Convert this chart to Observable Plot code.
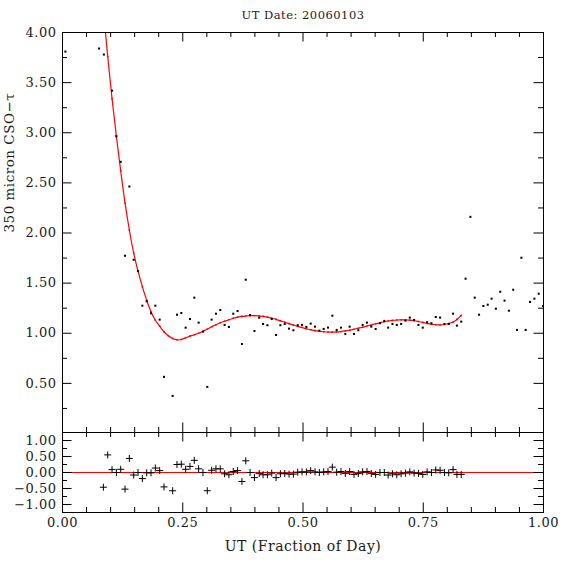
<!DOCTYPE html>
<html><head><meta charset="utf-8">
<script src="https://cdn.jsdelivr.net/npm/d3@7"></script>
<script src="https://cdn.jsdelivr.net/npm/@observablehq/plot@0.6"></script>
<style>
html,body{margin:0;padding:0;background:#fff;}
#chart{position:relative;width:574px;height:574px;overflow:hidden;background:#fff;}
#chart svg{position:absolute;left:0;}
</style></head><body><div id="chart"></div>
<script>
const titleText = "UT Date: 20060103";
const xTitle = "UT (Fraction of Day)";
const yTitle = "350 micron CSO\u2212\u03c4";

// measured tau values
const tauX = [0.006,0.076,0.086,0.094,0.103,0.112,0.121,0.130,0.139,0.148,0.157,0.166,0.175,0.184,0.193,0.202,0.211,0.229,0.238,0.247,0.256,0.265,0.274,0.283,0.292,0.301,0.310,0.319,0.328,0.337,0.346,0.355,0.364,0.373,0.381,0.390,0.399,0.409,0.417,0.426,0.435,0.444,0.453,0.462,0.471,0.480,0.489,0.498,0.507,0.516,0.525,0.534,0.543,0.552,0.561,0.570,0.579,0.588,0.597,0.606,0.615,0.624,0.633,0.642,0.651,0.660,0.669,0.677,0.686,0.695,0.704,0.713,0.722,0.731,0.740,0.749,0.758,0.767,0.776,0.785,0.794,0.803,0.812,0.820,0.829,0.838,0.848,0.857,0.866,0.875,0.884,0.892,0.901,0.910,0.919,0.928,0.937,0.945,0.954,0.963,0.972,0.981,0.990,0.999];
const tauY = [3.81,3.84,3.78,4.31,3.42,2.965,2.71,1.773,2.464,1.733,1.62,1.275,1.319,1.199,1.275,1.136,0.565,0.375,1.185,1.202,1.056,1.142,1.355,1.106,1.016,0.465,1.136,1.195,1.232,1.083,1.063,1.195,1.222,0.893,1.534,1.182,1.023,1.155,1.093,1.08,1.142,0.983,1.08,1.093,1.046,1.03,1.08,1.083,1.063,1.096,1.066,1.026,1.043,1.056,1.175,1.033,1.056,0.993,1.066,0.993,1.03,1.083,1.106,1.066,1.043,1.10,1.123,1.056,1.093,1.083,1.093,1.126,1.156,1.133,1.083,1.056,1.11,1.10,1.162,1.156,1.093,1.093,1.195,1.076,1.116,1.544,2.161,1.355,1.185,1.272,1.285,1.345,1.245,1.414,1.325,1.225,1.434,1.033,1.753,1.033,1.312,1.345,1.394,1.272];

// fitted curve, read at the fitted sample times
const fitX = [0.085,0.094,0.103,0.112,0.121,0.130,0.139,0.148,0.157,0.166,0.175,0.184,0.193,0.202,0.211,0.220,0.229,0.238,0.247,0.256,0.265,0.274,0.283,0.292,0.301,0.310,0.319,0.328,0.337,0.346,0.355,0.364,0.373,0.381,0.390,0.399,0.409,0.417,0.426,0.435,0.444,0.453,0.462,0.471,0.480,0.489,0.498,0.507,0.516,0.525,0.534,0.543,0.552,0.561,0.570,0.579,0.588,0.597,0.606,0.615,0.624,0.633,0.642,0.651,0.660,0.669,0.677,0.686,0.695,0.704,0.713,0.722,0.731,0.740,0.749,0.758,0.767,0.776,0.785,0.794,0.803,0.812,0.820,0.829];
const fitY = [4.24,3.76,3.34,2.965,2.62,2.30,2.03,1.80,1.62,1.465,1.33,1.215,1.13,1.07,1.015,0.975,0.948,0.935,0.938,0.955,0.972,0.985,1.0,1.02,1.04,1.065,1.085,1.105,1.12,1.135,1.15,1.16,1.168,1.172,1.175,1.176,1.174,1.168,1.16,1.15,1.138,1.124,1.11,1.096,1.082,1.068,1.057,1.045,1.035,1.026,1.02,1.015,1.012,1.011,1.013,1.017,1.023,1.03,1.04,1.05,1.06,1.072,1.083,1.095,1.105,1.115,1.122,1.128,1.132,1.134,1.133,1.13,1.125,1.117,1.108,1.098,1.09,1.085,1.083,1.087,1.097,1.113,1.138,1.178];

// residuals
const resX = [0.085,0.094,0.103,0.112,0.121,0.130,0.139,0.148,0.157,0.166,0.175,0.184,0.193,0.202,0.211,0.229,0.238,0.247,0.256,0.265,0.274,0.283,0.292,0.301,0.310,0.319,0.328,0.337,0.346,0.355,0.364,0.373,0.381,0.390,0.399,0.409,0.417,0.426,0.435,0.444,0.453,0.462,0.471,0.480,0.489,0.498,0.507,0.516,0.525,0.534,0.543,0.552,0.561,0.570,0.579,0.588,0.597,0.606,0.615,0.624,0.633,0.642,0.651,0.660,0.669,0.677,0.686,0.695,0.704,0.713,0.722,0.731,0.740,0.749,0.758,0.767,0.776,0.785,0.794,0.803,0.812,0.820,0.829];
const resY = [-0.46,0.55,0.09,0.0,0.10,-0.52,0.44,-0.08,0.0,-0.19,-0.01,-0.01,0.14,0.06,-0.45,-0.57,0.25,0.26,0.10,0.19,0.38,0.115,0.0,-0.57,0.07,0.115,0.115,-0.04,-0.07,0.03,0.06,-0.28,0.365,0.0,-0.16,-0.03,-0.07,-0.07,-0.02,-0.16,-0.04,-0.03,-0.05,-0.05,0.01,0.02,0.02,0.06,0.02,0.0,0.02,0.03,0.167,0.01,0.03,-0.03,0.03,-0.06,-0.03,0.02,0.03,-0.03,-0.06,0.0,0.0,-0.08,-0.04,-0.07,-0.04,-0.02,0.02,-0.02,-0.03,-0.06,0.02,0.0,0.08,0.07,0.0,-0.01,0.09,-0.06,-0.06];

// ticks
const xMajor = [0.25,0.5,0.75];
const xMinor = [0.05,0.1,0.15,0.2,0.3,0.35,0.4,0.45,0.55,0.6,0.65,0.7,0.8,0.85,0.9,0.95];
const xLabels = [0,0.25,0.5,0.75,1];
const yTopMajor = [0.5,1,1.5,2,2.5,3,3.5];
const yTopMinor = [0.25,0.75,1.25,1.75,2.25,2.75,3.25,3.75];
const yTopLabels = [0.5,1,1.5,2,2.5,3,3.5,4];
const yResMajor = [-1,-0.5,0,0.5,1];
const yResMinor = [-0.75,-0.25,0.25,0.75];
const yResLabels = [-1,-0.5,0,0.5,1];

const tau = tauX.map((x,i)=>({x, y: tauY[i]}));
const fit = fitX.map((x,i)=>({x, y: fitY[i]}));
const res = resX.map((x,i)=>({x, y: resY[i]}));

const W = 574, ML = 62, MR = 31, PW = W - ML - MR;
const FONT = "DejaVu Serif";
const fmt = v => (v < 0 ? "\u2212" : "") + Math.abs(v).toFixed(2);
const RED = "#ff0000";
const INK = "#1a1a1a";
const MINOR = 5, MAJOR = 9.5;

const plusSymbol = {draw(ctx, size){ const r = Math.sqrt(size/Math.PI); ctx.moveTo(-r,0); ctx.lineTo(r,0); ctx.moveTo(0,-r); ctx.lineTo(0,r); }};

function xTickMarks(PH){
  return [
    Plot.ruleX(xMinor, {x: d=>d, insetBottom: PH - MINOR, stroke: "black"}),
    Plot.ruleX(xMinor, {x: d=>d, insetTop: PH - MINOR, stroke: "black"}),
    Plot.ruleX(xMajor, {x: d=>d, insetBottom: PH - MAJOR, stroke: "black"}),
    Plot.ruleX(xMajor, {x: d=>d, insetTop: PH - MAJOR, stroke: "black"})
  ];
}
function yTickMarks(minor, major){
  return [
    Plot.ruleY(minor, {y: d=>d, insetRight: PW - MINOR, stroke: "black"}),
    Plot.ruleY(minor, {y: d=>d, insetLeft: PW - MINOR, stroke: "black"}),
    Plot.ruleY(major, {y: d=>d, insetRight: PW - MAJOR, stroke: "black"}),
    Plot.ruleY(major, {y: d=>d, insetLeft: PW - MAJOR, stroke: "black"})
  ];
}

const STYLE = {fontFamily: FONT, background: "transparent", overflow: "visible", letterSpacing: "0.5px"};

const TOP_MT = 32, TOP_H = 432, TOP_PH = TOP_H - TOP_MT;
const topPlot = Plot.plot({
  width: W, height: TOP_H,
  marginLeft: ML, marginRight: MR, marginTop: TOP_MT, marginBottom: 0,
  style: STYLE,
  x: {domain: [0,1], axis: null},
  y: {domain: [0.01,4], axis: null},
  marks: [
    Plot.line(fit, {x: "x", y: "y", stroke: RED, strokeWidth: 1.2, curve: "catmull-rom", clip: true}),
    Plot.dot(fit, {x: "x", y: "y", r: 0.9, symbol: "square", fill: RED, clip: true}),
    Plot.dot(tau, {x: "x", y: "y", r: 1.15, symbol: "square", fill: "black", clip: true}),
    ...xTickMarks(TOP_PH),
    ...yTickMarks(yTopMinor, yTopMajor),
    Plot.frame({stroke: "black"}),
    Plot.text(yTopLabels, {y: d=>d, text: d=>fmt(d), frameAnchor: "left", dx: -6, textAnchor: "end", fontSize: 13, fill: INK}),
    Plot.text([titleText], {text: d=>d, frameAnchor: "top", dy: -22, fontSize: 11.5, fill: INK}),
    Plot.text([yTitle], {text: d=>d, frameAnchor: "left", dx: -53, rotate: -90, fontSize: 13.5, fill: INK})
  ]
});
topPlot.style.top = "0px";

const BOT_MT = 10, BOT_PH = 80, BOT_MB = 62, BOT_H = BOT_MT + BOT_PH + BOT_MB;
const bottomPlot = Plot.plot({
  width: W, height: BOT_H,
  marginLeft: ML, marginRight: MR, marginTop: BOT_MT, marginBottom: BOT_MB,
  style: STYLE,
  x: {domain: [0,1], axis: null},
  y: {domain: [-1.25,1.25], axis: null},
  marks: [
    Plot.ruleY([0], {stroke: RED, strokeWidth: 1.2}),
    Plot.dot(res, {x: "x", y: "y", r: 3.5, symbol: plusSymbol, stroke: "black", strokeWidth: 1, fill: "none"}),
    ...xTickMarks(BOT_PH),
    ...yTickMarks(yResMinor, yResMajor),
    Plot.frame({stroke: "black"}),
    Plot.text(yResLabels, {y: d=>d, text: d=>fmt(d), frameAnchor: "left", dx: -6, textAnchor: "end", fontSize: 13, fill: INK}),
    Plot.text(xLabels, {x: d=>d, text: d=>fmt(d), frameAnchor: "bottom", dy: 14, fontSize: 13, fill: INK}),
    Plot.text([xTitle], {text: d=>d, frameAnchor: "bottom", dy: 38, fontSize: 14, fill: INK})
  ]
});
bottomPlot.style.top = (432 - BOT_MT) + "px";

const chart = document.getElementById("chart");
chart.appendChild(topPlot);
chart.appendChild(bottomPlot);
</script></body></html>
